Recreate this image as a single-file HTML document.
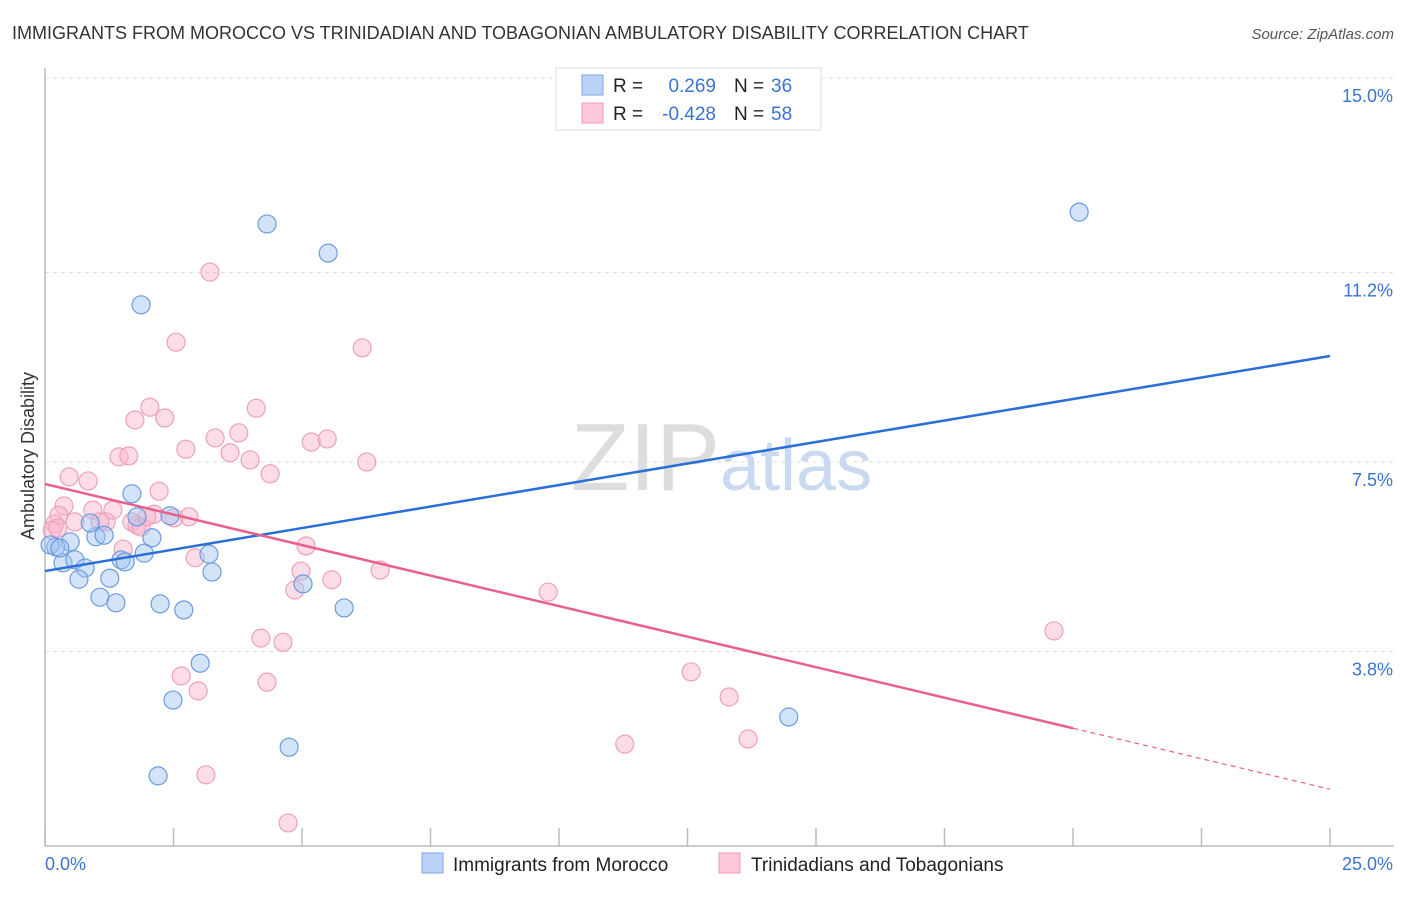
<!DOCTYPE html>
<html><head><meta charset="utf-8"><style>
body{margin:0;background:#fff;font-family:"Liberation Sans",sans-serif;}
svg text{font-family:"Liberation Sans",sans-serif;}
</style></head><body>
<svg id="chart" width="1406" height="892" xmlns="http://www.w3.org/2000/svg">
<text x="12" y="39" font-size="18" fill="#333">IMMIGRANTS FROM MOROCCO VS TRINIDADIAN AND TOBAGONIAN AMBULATORY DISABILITY CORRELATION CHART</text>
<text x="1394" y="39" font-size="15" font-style="italic" fill="#555" text-anchor="end">Source: ZipAtlas.com</text>
<g id="grid"></g>
<g id="ylabels"></g>
<g id="xticks"></g>
<line x1="45" y1="68" x2="45" y2="846" stroke="#bbb" stroke-width="1.5"/>
<line x1="45" y1="846" x2="1394" y2="846" stroke="#bbb" stroke-width="1.5"/>
<text x="720" y="490" font-size="96" font-family="Liberation Serif" fill="#ddd" text-anchor="end">ZIP</text>
<text x="720" y="490" font-size="72" fill="#c9d9ef">atlas</text>
<text transform="translate(34,456) rotate(-90)" font-size="18" fill="#333" text-anchor="middle">Ambulatory Disability</text>
<text x="45" y="870" font-size="18" fill="#3b73d1">0.0%</text>
<text x="1393" y="870" font-size="18" fill="#3b73d1" text-anchor="end">25.0%</text>
<g id="pink"></g>
<g id="blue"></g>
<g id="lines"></g>
<g>
<rect x="556" y="68" width="265" height="62" fill="#fff" stroke="#ddd"/>
<rect x="582" y="75" width="21" height="20" fill="#b9d2f5" stroke="#7aa5e6"/>
<rect x="582" y="103" width="21" height="20" fill="#fcc8d8" stroke="#ee98b4"/>
<text x="613" y="92" font-size="19" fill="#222">R =</text>
<text x="716" y="92" font-size="19" fill="#3b73d1" text-anchor="end">0.269</text>
<text x="734" y="92" font-size="19" fill="#222">N =</text>
<text x="771" y="92" font-size="19" fill="#3b73d1">36</text>
<text x="613" y="120" font-size="19" fill="#222">R =</text>
<text x="716" y="120" font-size="19" fill="#3b73d1" text-anchor="end">-0.428</text>
<text x="734" y="120" font-size="19" fill="#222">N =</text>
<text x="771" y="120" font-size="19" fill="#3b73d1">58</text>
</g>
<g>
<rect x="422" y="853" width="21" height="20" fill="#b9d2f5" stroke="#7aa5e6"/>
<text x="453" y="871" font-size="19" fill="#222">Immigrants from Morocco</text>
<rect x="719" y="853" width="21" height="20" fill="#fcc8d8" stroke="#ee98b4"/>
<text x="751" y="871" font-size="19" fill="#222">Trinidadians and Tobagonians</text>
</g>
</svg>
<script>
const yTicks=[3.8,7.5,11.2,15.0];
const yTickLabels=["3.8%","7.5%","11.2%","15.0%"];
const xTicks=[0,2.5,5,7.5,10,12.5,15,17.5,20,22.5,25];
const blueX=[4.32,5.51,1.87,20.12,1.69,0.49,0.21,0.35,0.58,0.78,0.66,0.99,1.15,0.88,1.26,1.07,1.38,1.48,1.56,1.79,1.93,2.08,2.43,2.24,2.70,3.19,3.25,5.02,5.82,3.02,2.49,4.75,2.20,14.47,0.10,0.29];
const blueY=[12.15,11.58,10.57,12.38,6.88,5.94,5.84,5.53,5.59,5.43,5.21,6.04,6.07,6.31,5.23,4.86,4.75,5.59,5.55,6.43,5.72,6.02,6.45,4.73,4.61,5.70,5.35,5.12,4.65,3.57,2.85,1.93,1.37,2.52,5.88,5.82];
const pinkX=[3.21,2.55,6.17,2.04,1.75,2.33,4.11,3.77,3.31,2.74,3.60,3.99,5.18,5.49,6.26,4.38,1.44,1.63,0.47,0.84,0.37,0.27,0.19,0.14,0.58,0.93,1.19,1.32,1.69,1.79,1.87,2.12,2.22,1.98,2.80,2.51,5.08,6.52,4.98,5.58,4.86,9.79,2.92,4.20,4.63,2.65,2.98,4.32,19.63,12.57,13.31,11.28,13.68,3.13,4.73,1.52,1.07,0.25];
const pinkY=[11.21,9.84,9.73,8.57,8.32,8.36,8.55,8.07,7.97,7.75,7.68,7.54,7.89,7.95,7.50,7.27,7.60,7.62,7.21,7.13,6.64,6.46,6.29,6.17,6.33,6.56,6.33,6.56,6.33,6.27,6.23,6.48,6.93,6.43,6.43,6.41,5.86,5.39,5.37,5.20,5.00,4.96,5.63,4.06,3.98,3.32,3.03,3.20,4.20,3.40,2.91,1.99,2.09,1.39,0.45,5.80,6.33,6.21];
const blueTrend=[5.37,9.57];
const pinkTrend=[7.07,2.30,1.11];
const NS="http://www.w3.org/2000/svg";
const sx=v=>45+v*51.4, sy=v=>846-v*51.2;
function mk(tag,attrs,parent){const e=document.createElementNS(NS,tag);for(const k in attrs)e.setAttribute(k,attrs[k]);parent.appendChild(e);return e;}
const grid=document.getElementById('grid'),yl=document.getElementById('ylabels'),xt=document.getElementById('xticks');
mk('line',{x1:45,x2:1394,y1:sy(15),y2:sy(15),stroke:'#ddd','stroke-dasharray':'4,4'},grid);
yTicks.forEach((t,i)=>{
 const l=mk('line',{x1:45,x2:1394,y1:sy(t),y2:sy(t),stroke:'#ddd','stroke-dasharray':'4,4'},grid);
 
 
 const tx=mk('text',{x:1393,y:sy(t)+24,'font-size':18,fill:'#3b73d1','text-anchor':'end'},yl);
 tx.textContent=yTickLabels[i];
 
 
});
xTicks.forEach(t=>{
 const l=mk('line',{x1:sx(t),x2:sx(t),y1:828,y2:846,stroke:'#bbb','stroke-width':1.5},xt);
 
 
});
const pg=document.getElementById('pink'),bg=document.getElementById('blue');
pinkX.forEach((x,i)=>{
 const c=mk('circle',{cx:sx(x),cy:sy(pinkY[i]),r:9,fill:'rgba(248,180,202,0.45)',stroke:'#eea0ba','stroke-width':1.2},pg);
 
 
});
blueX.forEach((x,i)=>{
 const c=mk('circle',{cx:sx(x),cy:sy(blueY[i]),r:9,fill:'rgba(160,196,240,0.45)',stroke:'#6b9be0','stroke-width':1.2},bg);
 
 
});
const lg=document.getElementById('lines');
const bl=mk('line',{x1:sx(0),y1:sy(blueTrend[0]),x2:sx(25),y2:sy(blueTrend[1]),stroke:'#2a6fd6','stroke-width':2.5},lg);


const pl=mk('line',{x1:sx(0),y1:sy(pinkTrend[0]),x2:sx(20),y2:sy(pinkTrend[1]),stroke:'#e8608c','stroke-width':2.5},lg);


const pd=mk('line',{x1:sx(20),y1:sy(pinkTrend[1]),x2:sx(25),y2:sy(pinkTrend[2]),stroke:'#e8608c','stroke-width':1.2,'stroke-dasharray':'5,4'},lg);


</script>
</body></html>
